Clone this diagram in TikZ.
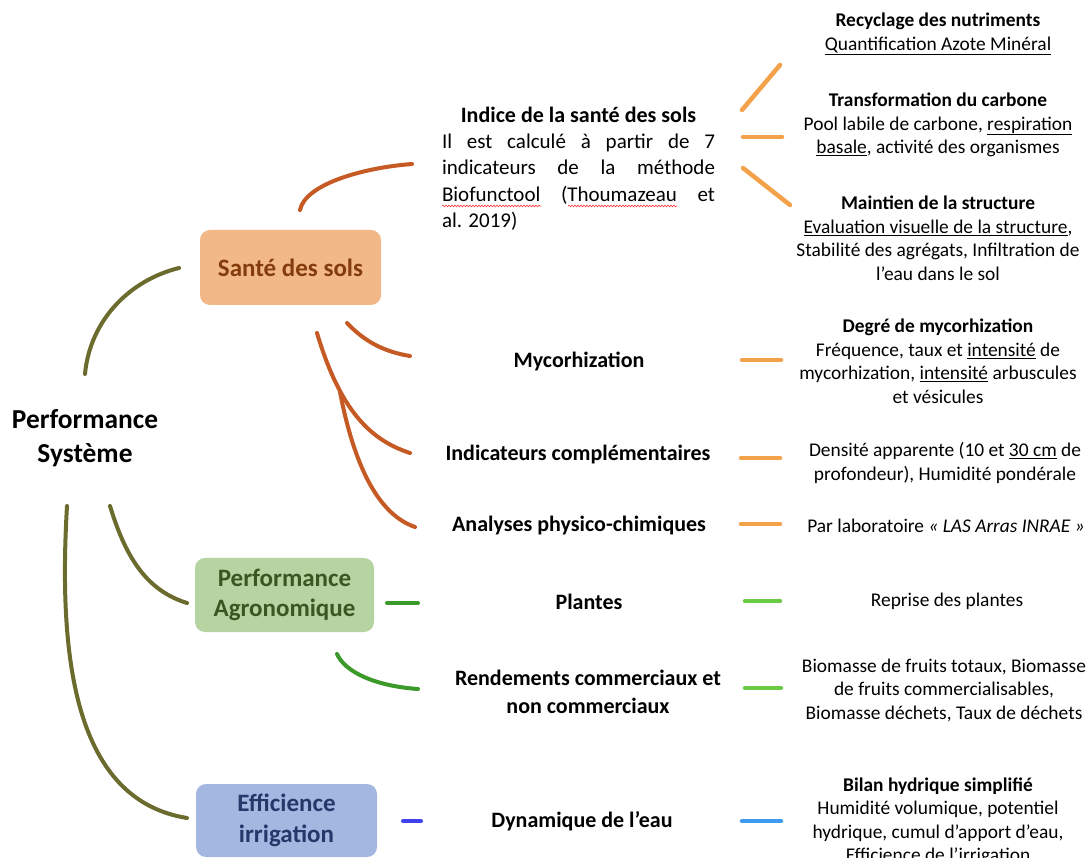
\documentclass[tikz,border=0pt]{standalone}
\usepackage{fontspec}
\setmainfont{Carlito}
\usetikzlibrary{decorations.pathmorphing}
\definecolor{olivec}{HTML}{6B6B2D}
\definecolor{brownc}{HTML}{C55A24}
\definecolor{orangec}{HTML}{F4A24A}
\definecolor{dgreenc}{HTML}{3B9A2A}
\definecolor{lgreenc}{HTML}{6ACB45}
\definecolor{dbluec}{HTML}{4040EE}
\definecolor{lbluec}{HTML}{3E9CF0}
\definecolor{peachfill}{HTML}{F3B888}
\definecolor{greenfill}{HTML}{B5D4A1}
\definecolor{bluefill}{HTML}{A3B7E0}
\definecolor{browntext}{HTML}{843C0C}
\definecolor{greentext}{HTML}{385723}
\definecolor{bluetext}{HTML}{25386A}
\tikzset{
  conn/.style={line width=4pt, line cap=round},
  olivel/.style={conn, draw=olivec},
  brownl/.style={conn, draw=brownc},
  orangel/.style={conn, draw=orangec, line width=4.5pt},
  dgreenl/.style={conn, draw=dgreenc},
  lgreenl/.style={conn, draw=lgreenc, line width=4.5pt},
  dbluel/.style={conn, draw=dbluec},
  lbluel/.style={conn, draw=lbluec, line width=4.5pt},
  catbox/.style={rounded corners=10pt, align=center, inner sep=0pt,
    font=\fontsize{25}{30.5}\selectfont\bfseries},
  bigt/.style={align=center, inner sep=0pt, font=\fontsize{27.4}{34}\selectfont\bfseries},
  midt/.style={align=center, inner sep=0pt, font=\fontsize{22}{28}\selectfont\bfseries},
  rtt/.style={align=center, inner sep=0pt, font=\fontsize{19.4}{23.5}\selectfont},
  squig/.style={draw=red!80, line width=0.6pt, decorate,
    decoration={snake, amplitude=0.8pt, segment length=3pt}}
}
\begin{document}
\begin{tikzpicture}[x=1pt,y=-1pt]
\clip (0,0) rectangle (1088,858);
\fill[white] (0,0) rectangle (1088,858);
\useasboundingbox (0,0) rectangle (1088,858);

% root
\node[bigt] (ps) at (85,438) {Performance\\Système};

% category boxes
\node[catbox, fill=peachfill, text=browntext, minimum width=181pt, minimum height=75pt] (sante) at (290.5,267.5) {Santé des sols};
\node[catbox, fill=greenfill, text=greentext, minimum width=179pt, minimum height=74pt] (agro) at (284.5,595) {Performance\\Agronomique};
\node[catbox, fill=bluefill, text=bluetext, minimum width=181pt, minimum height=73pt] (eff) at (286.5,820.5) {Efficience\\irrigation};

% middle column
\node[align=center, inner sep=0pt, font=\fontsize{21}{26.3}\selectfont] (m1) at (578.5,168.5) {{\fontsize{22}{26.3}\selectfont\textbf{Indice de la santé des sols}}\\
\makebox[273pt][s]{Il est calculé à partir de 7}\\
\makebox[273pt][s]{indicateurs de la méthode}\\
\makebox[273pt][s]{Biofunctool (Thoumazeau et}\\
\makebox[273pt][l]{al. 2019)}};
\node[midt] (m2) at (579,361.5) {Mycorhization};
\node[midt] (m3) at (578,454.5) {Indicateurs complémentaires};
\node[midt] (m4) at (579,525.5) {Analyses physico-chimiques};
\node[midt] (m5) at (589,601.5) {Plantes};
\node[midt] (m6) at (588,692) {Rendements commerciaux et\\non commerciaux};
\node[midt] (m7) at (582,821.5) {Dynamique de l’eau};

% right column
\node[rtt] (r1) at (938,34) {\textbf{Recyclage des nutriments}\\\underline{Quantification Azote Minéral}};
\node[rtt] (r2) at (938,125) {\textbf{Transformation du carbone}\\Pool labile de carbone, \underline{respiration}\\\underline{basale}, activité des organismes};
\node[rtt] (r3) at (938,238.5) {\textbf{Maintien de la structure}\\\underline{Evaluation visuelle de la structure},\\Stabilité des agrégats, Infiltration de\\l’eau dans le sol};
\node[rtt] (r4) at (938,361.5) {\textbf{Degré de mycorhization}\\Fréquence, taux et \underline{intensité} de\\mycorhization, \underline{intensité} arbuscules\\et vésicules};
\node[rtt] (r5) at (945,463) {Densité apparente (10 et \underline{30 cm} de\\profondeur), Humidité pondérale};
\node[rtt] (r6) at (946,525.5) {Par laboratoire \textit{« LAS Arras INRAE »}};
\node[rtt] (r7) at (947,601.5) {Reprise des plantes};
\node[rtt] (r8) at (944,690.5) {Biomasse de fruits totaux, Biomasse\\de fruits commercialisables,\\Biomasse déchets, Taux de déchets};
\node[rtt] (r9) at (938,821.5) {\textbf{Bilan hydrique simplifié}\\Humidité volumique, potentiel\\hydrique, cumul d’apport d’eau,\\Efficience de l’irrigation};

% spell-check squiggles
\coordinate (q1a) at (442,206); \coordinate (q1b) at (541,206);
\coordinate (q2a) at (568,206); \coordinate (q2b) at (677,206);
\draw[squig] (q1a) -- (q1b);
\draw[squig] (q2a) -- (q2b);

% connector end points
\coordinate (o1s) at (85,374);   \coordinate (o1e) at (179,268);
\coordinate (o2s) at (110,506);  \coordinate (o2e) at (187,603);
\coordinate (o3s) at (67,506);   \coordinate (o3e) at (187,818);
\coordinate (b1s) at (300,210);  \coordinate (b1e) at (412,164);
\coordinate (b2s) at (347,323);  \coordinate (b2e) at (410,356);
\coordinate (b3s) at (317,333);  \coordinate (b3e) at (410,453);
\coordinate (b4s) at (340,392);  \coordinate (b4e) at (415,527);
\coordinate (g1s) at (387,603);  \coordinate (g1e) at (418,603);
\coordinate (g2s) at (337,654);  \coordinate (g2e) at (418,689);
\coordinate (d1s) at (403,821);  \coordinate (d1e) at (421,821);

% root to categories
\draw[olivel] (o1s) .. controls (90,320) and (130,280) .. (o1e);
\draw[olivel] (o2s) .. controls (125,555) and (145,590) .. (o2e);
\draw[olivel] (o3s) .. controls (58,660) and (75,800) .. (o3e);

% sante to middle
\draw[brownl] (b1s) .. controls (305,185) and (360,168) .. (b1e);
\draw[brownl] (b2s) .. controls (365,342) and (385,352) .. (b2e);
\draw[brownl] (b3s) .. controls (340,410) and (370,440) .. (b3e);
\draw[brownl] (b4s) .. controls (355,470) and (380,515) .. (b4e);

% agro to middle
\draw[dgreenl] (g1s) -- (g1e);
\draw[dgreenl] (g2s) .. controls (345,672) and (375,686) .. (g2e);

% eff to middle
\draw[dbluel] (d1s) -- (d1e);

% middle to right
\coordinate (s1a) at (742,110); \coordinate (s1b) at (780,65);
\coordinate (s2a) at (743,137); \coordinate (s2b) at (782,137);
\coordinate (s3a) at (743,168); \coordinate (s3b) at (790,205);
\coordinate (s4a) at (742,360); \coordinate (s4b) at (781,360);
\coordinate (s5a) at (741,458); \coordinate (s5b) at (780,458);
\coordinate (s6a) at (741,524); \coordinate (s6b) at (780,524);
\coordinate (s7a) at (745,601); \coordinate (s7b) at (780,601);
\coordinate (s8a) at (745,688); \coordinate (s8b) at (781,688);
\coordinate (s9a) at (742,821); \coordinate (s9b) at (781,821);
\draw[orangel] (s1a) -- (s1b);
\draw[orangel] (s2a) -- (s2b);
\draw[orangel] (s3a) -- (s3b);
\draw[orangel] (s4a) -- (s4b);
\draw[orangel] (s5a) -- (s5b);
\draw[orangel] (s6a) -- (s6b);
\draw[lgreenl] (s7a) -- (s7b);
\draw[lgreenl] (s8a) -- (s8b);
\draw[lbluel] (s9a) -- (s9b);
\end{tikzpicture}
\end{document}
